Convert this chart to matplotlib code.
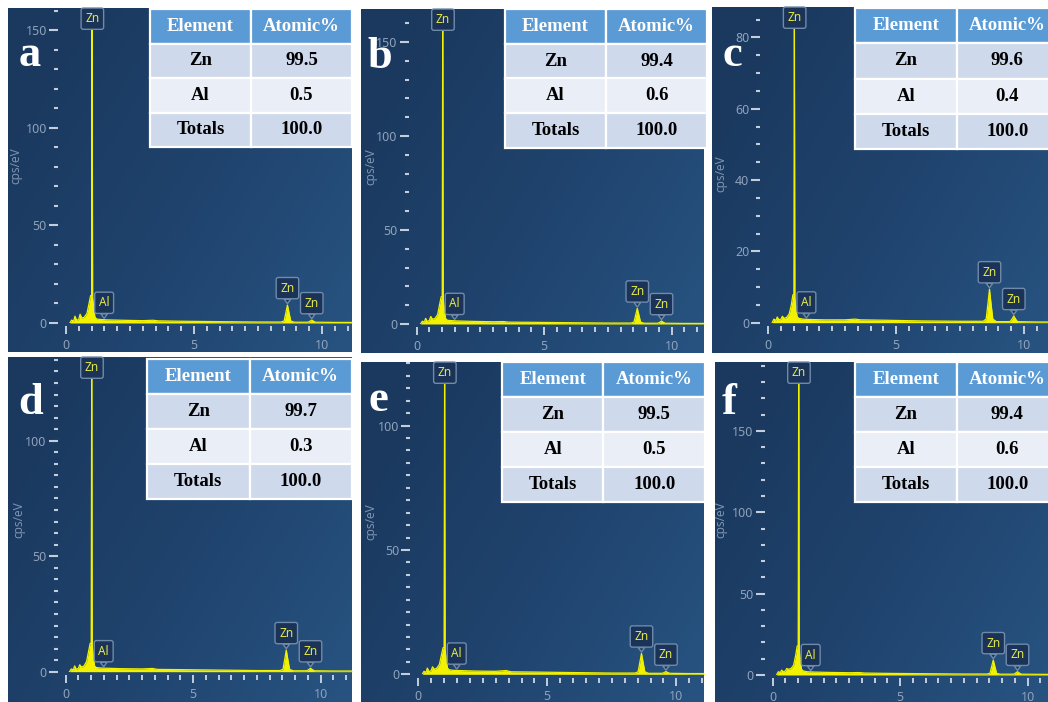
import numpy as np
import matplotlib
matplotlib.use("Agg")
import matplotlib.pyplot as plt
from matplotlib.colors import LinearSegmentedColormap
from matplotlib.ticker import MultipleLocator

# EDS spectra (cps/eV) of six Zn-Al coatings, sampled on one energy grid
energy_kev = [0.15, 0.22, 0.30, 0.35, 0.42, 0.50, 0.55, 0.62, 0.72, 0.82,
              0.90, 0.96, 1.00, 1.02, 1.04, 1.08, 1.13, 1.20, 1.35, 1.60,
              2.20, 3.00, 3.40, 3.60, 4.50, 6.00, 7.50, 8.40, 8.52, 8.60,
              8.65, 8.70, 8.78, 8.92, 9.45, 9.53, 9.60, 9.67, 9.75, 10.5, 11.5]

counts_a = [0, 1.5, 1.0, 3.5, 1.2, 2.0, 4.5, 2.5, 3.0, 5.0,
            10.0, 14.0, 14.0, 158, 13.0, 8.0, 3.0, 2.0, 1.8, 1.6,
            1.4, 1.2, 1.4, 1.1, 0.9, 0.7, 0.5, 0.5, 1.0, 6.0,
            9.2, 6.0, 1.0, 0.4, 0.4, 0.9, 1.5, 0.9, 0.4, 0.3, 0.3]
counts_b = [0, 1.5, 1.0, 3.0, 1.2, 2.0, 4.0, 2.5, 3.0, 5.0,
            10.5, 14.5, 14.5, 165, 13.5, 8.0, 3.0, 2.0, 1.8, 1.6,
            1.4, 1.2, 1.3, 1.0, 0.9, 0.7, 0.5, 0.5, 1.0, 5.5,
            8.3, 5.5, 1.0, 0.4, 0.4, 0.9, 1.6, 0.9, 0.4, 0.3, 0.3]
counts_c = [0, 1.0, 0.6, 1.6, 0.8, 1.0, 1.8, 1.2, 1.5, 2.5,
            5.0, 7.8, 7.8, 86, 7.0, 4.0, 1.6, 1.2, 1.0, 0.9,
            0.8, 0.8, 1.0, 0.8, 0.7, 0.5, 0.4, 0.4, 1.0, 6.0,
            9.4, 6.0, 1.0, 0.3, 0.3, 1.0, 1.9, 1.0, 0.3, 0.2, 0.2]
counts_d = [0, 1.2, 0.8, 2.5, 1.0, 1.5, 3.0, 2.0, 2.5, 4.5,
            9.0, 12.3, 12.3, 134, 11.5, 7.0, 2.5, 1.8, 1.6, 1.5,
            1.3, 1.2, 1.4, 1.0, 0.9, 0.7, 0.5, 0.5, 1.0, 6.0,
            9.4, 6.0, 1.0, 0.4, 0.4, 0.9, 1.5, 0.9, 0.4, 0.3, 0.3]
counts_e = [0, 1.2, 0.8, 2.5, 1.0, 1.5, 3.0, 2.0, 2.5, 4.0,
            8.0, 10.7, 10.7, 123, 10.0, 6.0, 2.5, 1.8, 1.6, 1.5,
            1.3, 1.2, 1.5, 1.0, 0.9, 0.7, 0.5, 0.5, 1.0, 5.5,
            8.4, 5.5, 1.0, 0.4, 0.4, 0.7, 1.1, 0.7, 0.4, 0.3, 0.3]
counts_f = [0, 2.0, 1.5, 3.0, 2.0, 2.5, 4.0, 3.5, 4.0, 6.0,
            12.0, 17.8, 17.8, 190, 16.0, 9.0, 3.5, 2.5, 2.0, 1.8,
            1.6, 1.4, 1.5, 1.2, 1.0, 0.8, 0.6, 0.6, 1.0, 6.0,
            9.2, 6.0, 1.0, 0.5, 0.5, 1.2, 2.0, 1.2, 0.5, 0.4, 0.4]
spectra = [counts_a, counts_b, counts_c, counts_d, counts_e, counts_f]

# quantification tables
panel_letters = ["a", "b", "c", "d", "e", "f"]
atomic_zn = [99.5, 99.4, 99.6, 99.7, 99.5, 99.4]
atomic_al = [0.5, 0.6, 0.4, 0.3, 0.5, 0.6]
atomic_total = [100.0, 100.0, 100.0, 100.0, 100.0, 100.0]

# peak markers: (element, line energy in keV)
zn_l_line = ("Zn", 1.03)
peak_marks = [("Al", 1.49), ("Zn", 8.65), ("Zn", 9.60)]

# ---- layout, in pixels of the 1048 x 702 canvas ----
W, H = 1048, 702
# panel box, x of 0 keV, px per keV, y of 0 cps, px per cps, y major / minor step
panels = [
    dict(box=(8, 8, 352, 352), x0=66.0, kpx=25.6, y0=323.0, upx=1.953, ymaj=50, ymin=10,
         table=(150, 9, 352, 147), cps=(16, 166)),
    dict(box=(361, 9, 704, 353), x0=416.7, kpx=25.5, y0=324.0, upx=1.88, ymaj=50, ymin=10,
         table=(505, 9, 707, 148), cps=(371, 167)),
    dict(box=(712, 7, 1048, 353), x0=768.3, kpx=25.57, y0=322.7, upx=3.567, ymaj=20, ymin=5,
         table=(855, 8, 1058, 149), cps=(721, 174)),
    dict(box=(8, 357, 352, 702), x0=65.7, kpx=25.5, y0=671.7, upx=2.31, ymaj=50, ymin=5,
         table=(147, 359, 352, 499), cps=(19, 520)),
    dict(box=(361, 362, 704, 702), x0=418.3, kpx=25.8, y0=674.3, upx=2.487, ymaj=50, ymin=5,
         table=(502, 362, 705, 502), cps=(371, 522)),
    dict(box=(715, 362, 1048, 702), x0=772.7, kpx=25.5, y0=675.0, upx=1.627, ymaj=50, ymin=10,
         table=(855, 362, 1058, 502), cps=(721, 520)),
]
letter_pos = [(19, 66), (367, 68), (722, 66), (18, 414), (368, 411), (722, 414)]

SPEC_YELLOW = "#f2f200"
LABEL_YELLOW = "#e4e84a"
TICK_COLOR = "#c3cedc"
TICKLABEL_COLOR = "#8fa2bb"
BOX_FACE = "#1a3356"
BOX_EDGE = "#6f8aab"
ROW_COLORS = ["#5b9bd5", "#cfd9ec", "#e9eef7", "#cfd9ec"]

bg_cmap = LinearSegmentedColormap.from_list("panel_bg", ["#1b395f", "#1f436d", "#27527f"])


def fig_rect(left, top, right, bottom):
    return [left / W, 1 - bottom / H, (right - left) / W, (bottom - top) / H]


fig = plt.figure(figsize=(W / 100, H / 100), dpi=100, facecolor="white")

# soft diagonal shading of the instrument screen
u, v = np.meshgrid(np.linspace(0, 1, 200), np.linspace(0, 1, 200))
shade = np.clip(0.75 * u + 0.45 * (1 - v) - 0.15, 0, 1)

label_box = dict(boxstyle="round,pad=0.35,rounding_size=0.18", fc=BOX_FACE, ec=BOX_EDGE, lw=1.0)

for i, p in enumerate(panels):
    left, top, right, bottom = p["box"]

    bax = fig.add_axes(fig_rect(left, top, right, bottom))
    bax.imshow(shade, cmap=bg_cmap, aspect="auto", extent=[0, 1, 0, 1], origin="lower")
    bax.axis("off")

    ax = fig.add_axes(fig_rect(p["x0"], top, right, p["y0"]))
    ax.set_facecolor("none")
    ax.set_xlim(0, (right - p["x0"]) / p["kpx"])
    ax.set_ylim(0, (p["y0"] - top) / p["upx"])

    counts = spectra[i]
    ax.fill_between(energy_kev, 0, counts, color=SPEC_YELLOW, lw=0, zorder=2)
    ax.plot(energy_kev, counts, color=SPEC_YELLOW, lw=0.9, zorder=2)
    ax.plot([energy_kev[-1], 20], [counts[-1], counts[-1]], color=SPEC_YELLOW, lw=0.9)

    for side in ["top", "right", "left", "bottom"]:
        ax.spines[side].set_visible(False)
    ax.spines["left"].set_position(("outward", 5.8))
    ax.spines["bottom"].set_position(("outward", 2.5))

    ax.xaxis.set_major_locator(MultipleLocator(5))
    ax.xaxis.set_minor_locator(MultipleLocator(0.5))
    ax.yaxis.set_major_locator(MultipleLocator(p["ymaj"]))
    ax.yaxis.set_minor_locator(MultipleLocator(p["ymin"]))
    ax.tick_params(axis="x", which="major", direction="out", length=6, width=1.4,
                   color=TICK_COLOR, labelcolor=TICKLABEL_COLOR, labelsize=9, pad=3)
    ax.tick_params(axis="x", which="minor", direction="out", length=3.5, width=1.4,
                   color=TICK_COLOR)
    ax.tick_params(axis="y", which="major", direction="out", length=6.5, width=1.5,
                   color=TICK_COLOR, labelcolor=TICKLABEL_COLOR, labelsize=9, pad=1.5)
    ax.tick_params(axis="y", which="minor", direction="out", length=3, width=1.5,
                   color=TICK_COLOR)
    for lab in ax.get_xticklabels() + ax.get_yticklabels():
        lab.set_fontfamily("Noto Sans")

    # peak labels
    ax.annotate(zn_l_line[0], xy=(zn_l_line[1], 1.0), xycoords=("data", "axes fraction"),
                xytext=(0, -3), textcoords="offset points", ha="center", va="top",
                fontsize=8.5, fontfamily="Noto Sans", color=LABEL_YELLOW,
                bbox=label_box, annotation_clip=False, zorder=4)
    for name, e_kev in peak_marks:
        tip = np.interp(e_kev, energy_kev, counts)
        ax.annotate(name, xy=(e_kev, tip), xycoords="data",
                    xytext=(0, 7.5), textcoords="offset points", ha="center", va="bottom",
                    fontsize=8.5, fontfamily="Noto Sans", color=LABEL_YELLOW,
                    bbox=label_box,
                    arrowprops=dict(arrowstyle="wedge,tail_width=0.55", fc=BOX_FACE,
                                    ec=BOX_EDGE, lw=1.0, shrinkA=0, shrinkB=1),
                    annotation_clip=False, zorder=4)

    cx, cy = p["cps"]
    fig.text(cx / W, 1 - cy / H, "cps/eV", rotation=90, ha="center",
             va="center", fontsize=8.5, color="#7e93b0", fontfamily="Noto Sans")

    # composition table
    tax = fig.add_axes(fig_rect(*p["table"]))
    tax.axis("off")
    cells = [["Element", "Atomic%"],
             ["Zn", f"{atomic_zn[i]:.1f}"],
             ["Al", f"{atomic_al[i]:.1f}"],
             ["Totals", f"{atomic_total[i]:.1f}"]]
    tbl = tax.table(cellText=cells, cellLoc="center", bbox=[0, 0, 1, 1])
    tbl.auto_set_font_size(False)
    for (r, c), cell in tbl.get_celld().items():
        cell.set_facecolor(ROW_COLORS[r])
        cell.set_edgecolor("white")
        cell.set_linewidth(1.6)
        cell.get_text().set_fontfamily("Liberation Serif")
        cell.get_text().set_fontweight("bold")
        cell.get_text().set_fontsize(13.5)
        cell.get_text().set_color("white" if r == 0 else "black")

    lx, ly = letter_pos[i]
    fig.text(lx / W, 1 - ly / H, panel_letters[i], ha="left", va="baseline",
             fontsize=32, fontweight="bold", fontfamily="Liberation Serif", color="white")

fig.savefig("out.png", dpi=100, facecolor="white")
